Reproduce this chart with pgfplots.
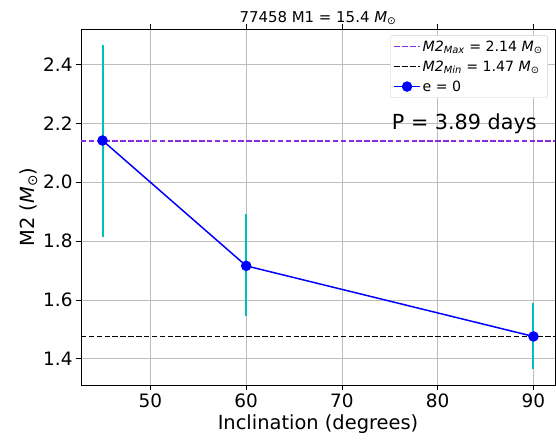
\documentclass[border=0pt]{standalone}
\usepackage{pgfplots}
\pgfplotsset{compat=1.18}
\usepackage{fontspec}
\setmainfont{DejaVu Sans}
\usetikzlibrary{calc}
\definecolor{mpcyan}{RGB}{0,191,191}
\definecolor{mpviolet}{RGB}{138,43,226}
\definecolor{mpgrid}{RGB}{190,190,190}
\newcommand{\Msun}{\textit{M}\textsubscript{⊙}}
\begin{document}
\begin{tikzpicture}
\begin{axis}[
  scale only axis,
  width=474bp, height=356bp,
  xmin=42.75, xmax=92.25,
  ymin=1.311, ymax=2.521,
  xtick={50,60,70,80,90},
  ytick={1.4,1.6,1.8,2.0,2.2,2.4},
  yticklabel style={/pgf/number format/.cd,fixed,fixed zerofill,precision=1},
  /pgf/number format/assume math mode=true,
  tick label style={font=\fontsize{18.5}{21}\selectfont},
  tick align=outside,
  major tick length=5bp,
  tick style={black, line width=0.8pt},
  axis line style={black, line width=0.8pt},
  grid=major,
  grid style={line width=0.8pt, color=mpgrid},
  xlabel={Inclination (degrees)},
  ylabel={M2 (\Msun)},
  label style={font=\fontsize{19.5}{22}\selectfont},
  xlabel style={yshift=0bp},
  ylabel style={yshift=-1bp},
  title={77458 M1 = 15.4 \Msun},
  title style={font=\fontsize{15}{18}\selectfont, yshift=-5bp},
  legend style={at={(0.985,0.982)}, anchor=north east, font=\fontsize{14.2}{17}\selectfont,
    draw=black!20, rounded corners=2pt, row sep=4bp, inner sep=3bp},
  legend cell align=left,
  legend image code/.code={\draw[mark repeat=2,mark phase=2,#1] plot coordinates {(0cm,0cm) (0.45cm,0cm) (0.9cm,0cm)};},
  clip=false,
]
\addplot[mpviolet, line width=1.5pt, dash pattern=on 5.5pt off 2.4pt, forget plot] coordinates {(42.75,2.14) (92.25,2.14)};
\addplot[black, line width=1.6pt, dash pattern=on 5.5pt off 2.4pt, forget plot] coordinates {(42.75,1.476) (92.25,1.476)};
\addlegendimage{mpviolet, line width=1.5pt, dash pattern=on 5.5pt off 2.4pt}
\addlegendentry{\textit{M2}\textsubscript{\textit{Max}} = 2.14 \Msun}
\addlegendimage{black, line width=1.6pt, dash pattern=on 5.5pt off 2.4pt}
\addlegendentry{\textit{M2}\textsubscript{\textit{Min}} = 1.47 \Msun}
\addplot[blue, line width=1.5pt, mark=*, mark size=4.5pt, mark options={fill=blue, draw=blue, solid},
  error bars/.cd, y dir=both, y explicit, error mark=none,
  error bar style={mpcyan, line width=2pt, solid}]
  coordinates {
    (45,2.142) += (0,0.324) -= (0,0.327)
    (60,1.716) += (0,0.176) -= (0,0.169)
    (90,1.476) += (0,0.113) -= (0,0.110)
  };
\addlegendentry{e = 0}
\node[anchor=east, font=\fontsize{20.8}{24}\selectfont, inner sep=0pt] at (axis cs:90.35,2.2) {P = 3.89 days};
\end{axis}
\pgfresetboundingbox
\useasboundingbox ($(current axis.south west)+(-81bp,-55bp)$) rectangle ($(current axis.north east)+(1bp,29bp)$);
\end{tikzpicture}
\end{document}
